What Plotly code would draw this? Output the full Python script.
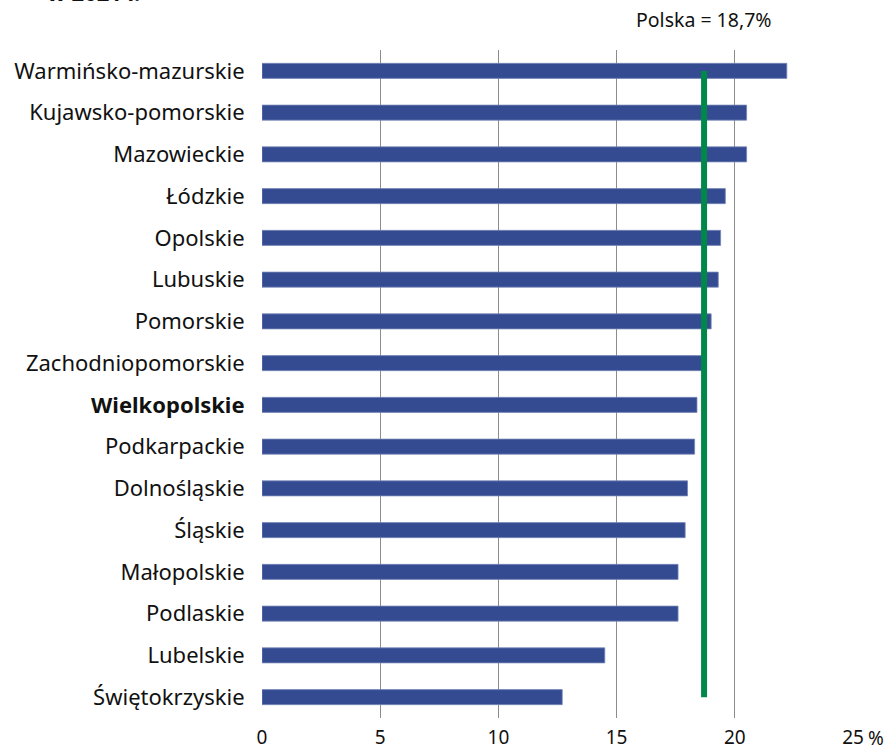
import plotly.graph_objects as go

regions = ["Warmińsko-mazurskie", "Kujawsko-pomorskie", "Mazowieckie", "Łódzkie",
           "Opolskie", "Lubuskie", "Pomorskie", "Zachodniopomorskie", "Wielkopolskie",
           "Podkarpackie", "Dolnośląskie", "Śląskie", "Małopolskie", "Podlaskie",
           "Lubelskie", "Świętokrzyskie"]
values = [22.2, 20.5, 20.5, 19.6, 19.4, 19.3, 19.0, 18.7, 18.4, 18.3, 18.0, 17.9,
          17.6, 17.6, 14.5, 12.7]
polska = 18.7
x_ticks = [0, 5, 10, 15, 20, 25]
x_ticktext = ["0", "5", "10", "15", "20", "25"]
highlight = "Wielkopolskie"

ticktext = [f"<b>{r}</b>" if r == highlight else r for r in regions]

fig = go.Figure()
fig.add_trace(go.Bar(
    y=regions, x=values, orientation="h",
    marker=dict(color="#344b91", line=dict(color="#7585b8", width=0.8)),
    width=0.36, hoverinfo="x+y",
))

fig.add_shape(type="line", xref="x", yref="y",
              x0=polska, x1=polska, y0=0, y1=len(regions) - 1,
              line=dict(color="#00874a", width=6), layer="above")

font = "Noto Sans"
fig.update_layout(
    width=888, height=751,
    margin=dict(l=262, r=35, t=50, b=33),
    plot_bgcolor="white", paper_bgcolor="white",
    showlegend=False,
    bargap=0.64,
    font=dict(family=font, size=18, color="#111111"),
    xaxis=dict(range=[0, 25], tickvals=x_ticks, ticktext=x_ticktext,
               showgrid=True, gridcolor="#8c8c8c", gridwidth=1.2,
               zeroline=False, showline=False, automargin=False,
               ticks="outside", ticklen=2, tickcolor="rgba(0,0,0,0)",
               tickfont=dict(family=font, size=19, color="#111111")),
    yaxis=dict(categoryorder="array", categoryarray=regions,
               tickvals=regions, ticktext=ticktext, automargin=False,
               autorange="reversed", showgrid=False, zeroline=False,
               ticks="outside", ticklen=12, tickcolor="rgba(0,0,0,0)",
               tickfont=dict(family=font, size=22, color="#111111")),
    annotations=[
        dict(text="Polska = 18,7%", x=polska, xref="x", y=1, yref="paper",
             yanchor="bottom", yshift=15, showarrow=False,
             font=dict(family=font, size=19.5, color="#111111")),
        dict(text="%", x=25, xref="x", y=0, yref="paper", xanchor="left",
             yanchor="top", xshift=13, yshift=-5, showarrow=False,
             font=dict(family=font, size=19, color="#111111")),
        dict(text="<b>w 2021 r.</b>", x=-0.367, xref="paper", xanchor="left",
             y=1, yref="paper", yanchor="bottom", yshift=41, showarrow=False,
             font=dict(family=font, size=22, color="#111111")),
    ],
)

fig.write_html("out.html", config={"displayModeBar": False},
               post_script="document.body.style.margin='0';")
